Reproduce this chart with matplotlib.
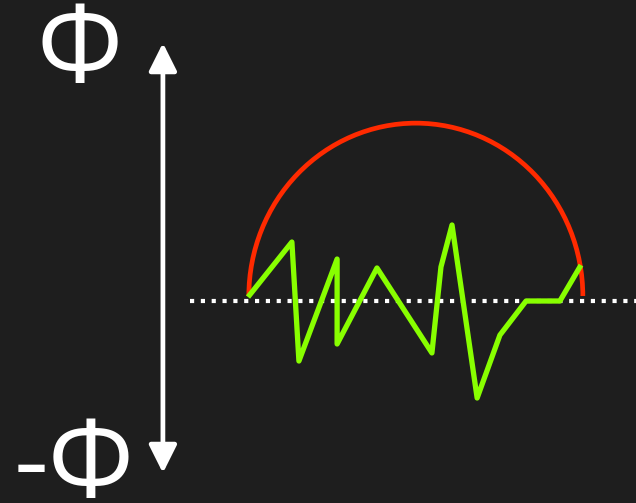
import matplotlib.pyplot as plt
from matplotlib.patches import Arc

# signal values (x in steps, y relative to the dotted baseline)
signal_x = [0.0, 1.31, 1.52, 2.66, 2.66, 3.85, 5.49, 5.76, 6.09, 6.84, 7.52, 8.30, 9.31, 9.94]
signal_y = [0.23, 3.43, -3.49, 2.44, -2.50, 1.92, -3.02, 1.98, 4.42, -5.64, -1.98, 0.0, 0.0, 2.09]

# envelope (half ellipse)
envelope_center = (5.01, 0.29)
envelope_width = 9.97
envelope_height = 20.1

# axis arrow and labels
axis_x = -2.54
axis_top = 15.0
axis_bottom = -10.0
baseline_start = -1.73
top_label = "Φ"
bottom_label = "-Φ"

BG = "#1e1e1e"

fig = plt.figure(figsize=(6.36, 5.03), dpi=100, facecolor=BG)
ax = fig.add_axes([0, 0, 1, 1])
ax.set_facecolor(BG)
ax.set_xlim(-7.403, 11.582)
ax.set_ylim(-11.744, 17.5)
ax.axis("off")

# dotted baseline
ax.plot([baseline_start, 11.582], [0, 0], color="white", lw=3.0,
        linestyle=(0, (1, 1.6)), dash_capstyle="butt", zorder=1)

# red envelope
ax.add_patch(Arc(envelope_center, envelope_width, envelope_height, theta1=0, theta2=180,
                 color="#ff2a00", lw=3.4, zorder=2))

# green signal
ax.plot(signal_x, signal_y, color="#88ff00", lw=3.8, solid_joinstyle="round",
        solid_capstyle="butt", zorder=3)

# vertical double arrow
ax.annotate("", xy=(axis_x, axis_top), xytext=(axis_x, axis_bottom),
            arrowprops=dict(arrowstyle="<|-|>,head_length=1.7,head_width=0.85",
                            color="white", lw=3.4, shrinkA=0, shrinkB=0))

ax.text(-5.04, 14.4, top_label, color="white", fontsize=78, family="Open Sans",
        fontweight="medium", ha="center", va="center")
ax.text(-7.0, -9.75, bottom_label, color="white", fontsize=78, family="Open Sans",
        fontweight="medium", ha="left", va="center")

fig.savefig("out.png", dpi=100, facecolor=BG)
